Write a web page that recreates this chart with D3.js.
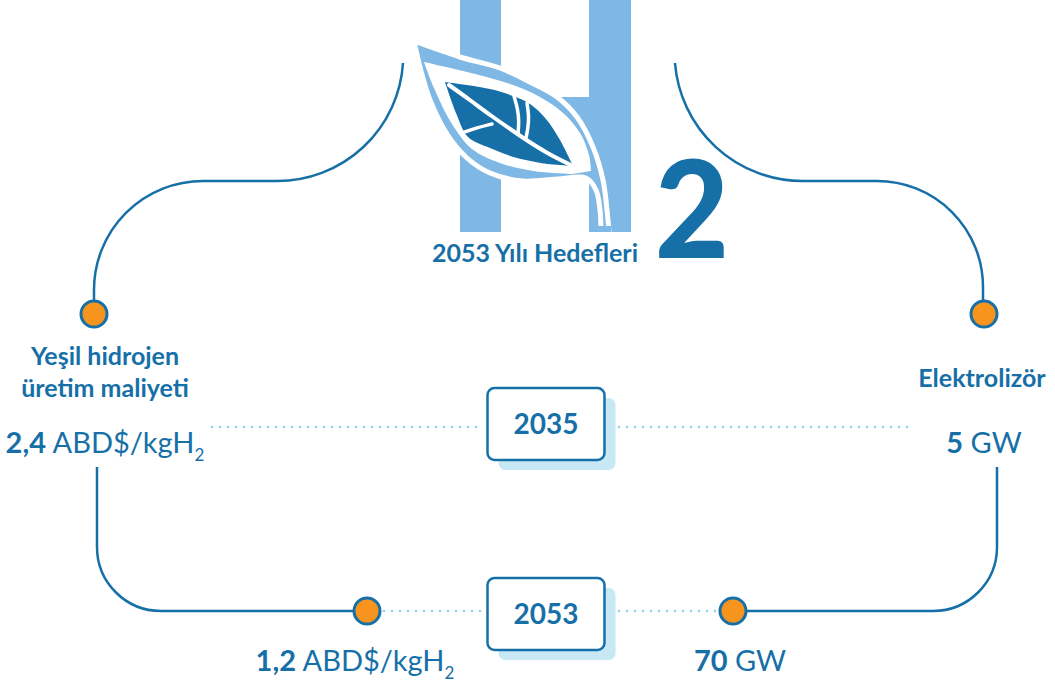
<!DOCTYPE html>
<html>
<head>
<meta charset="utf-8">
<script src="https://cdn.jsdelivr.net/npm/d3@7"></script>
<style>
  html, body { margin: 0; padding: 0; background: #ffffff; }
  svg { display: block; }
  text { font-family: Lato, "Noto Sans", sans-serif; }
</style>
</head>
<body>
<svg id="chart" width="1055" height="686"></svg>
<script>
// ---- data ----
const title = "2053 Yılı Hedefleri";
const years = ["2035", "2053"];
const costLabel = ["Yeşil hidrojen", "üretim maliyeti"];
const costValues = ["2,4", "1,2"];
const costUnit = "ABD$/kgH";
const electroLabel = ["Elektrolizör"];
const electroValues = ["5", "70"];
const electroUnit = "GW";

// ---- styles ----
const DARK = "#1670a7";
const LIGHT = "#7fb8e4";
const ORANGE = "#f7941d";
const DOT = "#93d3f0";
const SHADOW = "#c9e8f6";

const svg = d3.select("#chart");

// row scale (vertical position of each year)
const y = d3.scalePoint().domain(years).range([427, 611]);

// ---------- logo ----------
const logo = svg.append("g");
logo.append("rect").attr("x", 460).attr("y", 0).attr("width", 41).attr("height", 232).attr("fill", LIGHT);
logo.append("rect").attr("x", 589).attr("y", 0).attr("width", 42).attr("height", 232).attr("fill", LIGHT);
logo.append("rect").attr("x", 500).attr("y", 97).attr("width", 90).attr("height", 75).attr("fill", LIGHT);

const cr = d3.line().curve(d3.curveCatmullRom.alpha(0.5));
function shape(a, b) { return cr(a) + cr(b).replace(/^M/, "L") + "Z"; }

logo.append("path")
  .attr("d", shape(
    [[414,41],[460,57],[500,68],[530,82],[557,97],[577,117],[593,147],[603,180],[607,210],[609,232]],
    [[601,232],[600,210],[596,190],[586,178],[557,179],[523,181],[490,173],[467,158],[447,134],[430,100],[420,67],[414,41]]))
  .attr("fill", LIGHT).attr("stroke", "#fff").attr("stroke-width", 5).attr("stroke-linejoin", "miter");
logo.append("rect").attr("x", 598).attr("y", 226).attr("width", 13).attr("height", 6).attr("fill", LIGHT);
logo.append("path")
  .attr("d", shape(
    [[424,62],[467,72],[507,83],[540,97],[563,113],[580,133],[589,155],[591,171]],
    [[572,174],[533,171],[500,163],[472,149],[452,124],[434,88],[424,62]]))
  .attr("fill", "#fff");
logo.append("path")
  .attr("d", shape(
    [[445,82],[490,89],[513,96],[530,104],[546,119],[560,140],[573,166]],
    [[547,164],[517,158],[490,148],[468,137],[456,113],[445,82]]))
  .attr("fill", DARK);
const veins = [
  [[449,85],[470,100],[490,115],[520,136],[548,154],[573,166]],
  [[514,96],[518,110],[519,122],[518,134]],
  [[527,103],[529,116],[528,128],[526,138]],
  [[462,133],[476,128],[492,124]]
];
veins.forEach((v, i) => logo.append("path").attr("d", d3.line().curve(d3.curveBasis)(v))
  .attr("fill", "none").attr("stroke", "#fff").attr("stroke-width", i === 0 ? 4 : 3.5).attr("stroke-linecap", "round"));

// big "2"
logo.append("text").attr("x", 0).attr("y", 0)
  .attr("transform", "translate(692,258) scale(0.95,1)")
  .attr("text-anchor", "middle")
  .attr("font-family", "Roboto, sans-serif").attr("font-weight", 900)
  .attr("font-size", 135).attr("fill", DARK).text("2");

// title
svg.append("text").attr("x", 535).attr("y", 262).attr("text-anchor", "middle")
  .attr("font-weight", 700).attr("font-size", 25).attr("fill", DARK).text(title);

// ---------- connector lines ----------
const conn = svg.append("g").attr("fill", "none").attr("stroke", DARK).attr("stroke-width", 2.5);
conn.append("path").attr("d",
  "M403,63 A126,126 0 0 1 277,181 L203,181 A109,109 0 0 0 94,290 L94,301");
conn.append("path").attr("d",
  "M675,63 A128,128 0 0 0 803,181 L877,181 A106,106 0 0 1 983,287 L983,301");
conn.append("path").attr("d",
  `M97,467 L97,547 A64,64 0 0 0 161,${y("2053")} L367,${y("2053")}`);
conn.append("path").attr("d",
  `M997,467 L997,547 A64,64 0 0 1 933,${y("2053")} L733,${y("2053")}`);

// dotted guide lines
const dots = svg.append("g").attr("stroke", DOT).attr("stroke-width", 2.6)
  .attr("stroke-dasharray", "0,8").attr("stroke-linecap", "round");
const dotSegs = [
  [212, 484, y("2035")], [619, 908, y("2035")],
  [384, 484, y("2053")], [619, 716, y("2053")]
];
dots.selectAll("line").data(dotSegs).join("line")
  .attr("x1", d => d[0]).attr("x2", d => d[1]).attr("y1", d => d[2]).attr("y2", d => d[2]);

// orange nodes
const nodes = [[94, 314], [984, 314], [367, y("2053")], [733, y("2053")]];
svg.append("g").selectAll("circle").data(nodes).join("circle")
  .attr("cx", d => d[0]).attr("cy", d => d[1]).attr("r", 13)
  .attr("fill", ORANGE).attr("stroke", DARK).attr("stroke-width", 3);

// year boxes
const bw = 117, bh = 72;
const box = svg.append("g").selectAll("g").data(years).join("g")
  .attr("transform", (d, i) => `translate(546,${y(d) + (i === 0 ? -3 : 3)})`);
box.append("rect").attr("x", -bw / 2 + 11).attr("y", -bh / 2 + 10).attr("width", bw).attr("height", bh)
  .attr("rx", 7).attr("fill", SHADOW);
box.append("rect").attr("x", -bw / 2).attr("y", -bh / 2).attr("width", bw).attr("height", bh)
  .attr("rx", 7).attr("fill", "#fff").attr("stroke", DARK).attr("stroke-width", 2.5);
box.append("text").attr("text-anchor", "middle").attr("y", 10)
  .attr("font-weight", 700).attr("font-size", 28).attr("fill", DARK).text(d => d);

// category labels
svg.append("g").selectAll("text").data(costLabel).join("text")
  .attr("x", 105).attr("y", (d, i) => 365 + i * 32).attr("text-anchor", "middle")
  .attr("font-weight", 700).attr("font-size", 25).attr("fill", DARK).text(d => d);
svg.append("g").selectAll("text").data(electroLabel).join("text")
  .attr("x", 982).attr("y", 387).attr("text-anchor", "middle")
  .attr("font-weight", 700).attr("font-size", 25).attr("fill", DARK).text(d => d);

// value labels
const costPos = [[105, 453], [355, 671]];
const elecPos = [[984, 453], [740, 671]];
costValues.forEach((v, i) => {
  const t = svg.append("text").attr("x", costPos[i][0]).attr("y", costPos[i][1])
    .attr("text-anchor", "middle").attr("font-size", 29).attr("fill", DARK);
  t.append("tspan").attr("font-weight", 700).text(v);
  t.append("tspan").attr("font-weight", 400).text(" " + costUnit);
  t.append("tspan").attr("font-weight", 400).attr("font-size", 17).attr("dy", 8).text("2");
});
electroValues.forEach((v, i) => {
  const t = svg.append("text").attr("x", elecPos[i][0]).attr("y", elecPos[i][1])
    .attr("text-anchor", "middle").attr("font-size", 29).attr("fill", DARK);
  t.append("tspan").attr("font-weight", 700).text(v);
  t.append("tspan").attr("font-weight", 400).text(" " + electroUnit);
});
</script>
</body>
</html>
